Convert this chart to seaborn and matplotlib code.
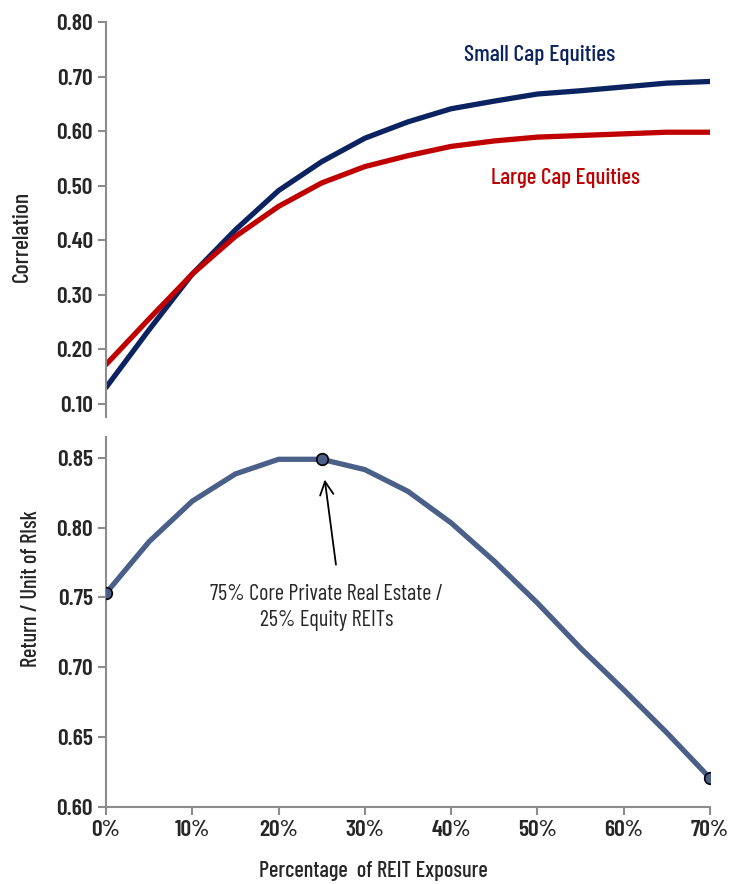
import matplotlib
matplotlib.use("Agg")
import matplotlib.pyplot as plt
import seaborn as sns
import pandas as pd

exposure = [0, 5, 10, 15, 20, 25, 30, 35, 40, 45, 50, 55, 60, 65, 70]
small_cap = [0.130, 0.236, 0.338, 0.419, 0.491, 0.544, 0.587, 0.617, 0.641, 0.655,
             0.668, 0.674, 0.681, 0.688, 0.691]
large_cap = [0.172, 0.256, 0.338, 0.407, 0.462, 0.505, 0.535, 0.555, 0.572, 0.582,
             0.589, 0.592, 0.595, 0.598, 0.598]
return_per_risk = [0.753, 0.790, 0.819, 0.8385, 0.849, 0.849, 0.8416, 0.826, 0.8034,
                   0.776, 0.746, 0.7137, 0.6838, 0.653, 0.6205]
marked = [0, 25, 70]

NAVY = "#0b2461"
RED = "#c00000"
STEEL = "#4a6089"
GRAY = "#8c8c8c"

sns.set_style("white")
plt.rcParams["font.family"] = ["Barlow Condensed", "DejaVu Sans"]

corr = pd.DataFrame({"x": exposure * 2,
                     "y": small_cap + large_cap,
                     "series": ["Small Cap Equities"] * len(exposure) + ["Large Cap Equities"] * len(exposure)})
ret = pd.DataFrame({"x": exposure, "y": return_per_risk})

fig = plt.figure(figsize=(7.3, 8.84), dpi=100)
ax1 = fig.add_axes([0.1452, 0.5283, 0.8274, 0.4468])
ax2 = fig.add_axes([0.1452, 0.0874, 0.8274, 0.4183])

sns.lineplot(data=corr, x="x", y="y", hue="series",
             palette={"Small Cap Equities": NAVY, "Large Cap Equities": RED},
             linewidth=3.8, legend=False, ax=ax1)
ax1.set_xlim(0, 70)
ax1.set_ylim(0.076, 0.80)
ax1.set_yticks([0.1, 0.2, 0.3, 0.4, 0.5, 0.6, 0.7, 0.8])
ax1.set_yticklabels([f"{v:.2f}" for v in ax1.get_yticks()])
ax1.set_xticks([])
ax1.set_xlabel("")
ax1.set_ylabel("Correlation", fontsize=17, fontweight=500)
for s in ["top", "right", "bottom"]:
    ax1.spines[s].set_visible(False)
ax1.text(50.3, 0.740, "Small Cap Equities", color=NAVY, fontsize=17,
         fontweight=500, ha="center", va="center")
ax1.text(53.2, 0.514, "Large Cap Equities", color=RED, fontsize=16.5,
         fontweight=500, ha="center", va="center")

sns.lineplot(data=ret, x="x", y="y", color=STEEL, linewidth=3.8, ax=ax2)
mk = ret[ret["x"].isin(marked)]
sns.scatterplot(data=mk, x="x", y="y", color=STEEL, edgecolor="black",
                linewidth=1.2, s=70, zorder=5, ax=ax2)
ax2.set_xlim(0, 70)
ax2.set_ylim(0.60, 0.865)
ax2.set_yticks([0.60, 0.65, 0.70, 0.75, 0.80, 0.85])
ax2.set_yticklabels([f"{v:.2f}" for v in ax2.get_yticks()])
ax2.set_xticks(range(0, 71, 10))
ax2.set_xticklabels([f"{v}%" for v in range(0, 71, 10)])
ax2.set_xlabel("Percentage  of REIT Exposure", fontsize=16, fontweight=500)
ax2.set_ylabel("Return / Unit of RIsk", fontsize=16, fontweight=500)
for s in ["top", "right"]:
    ax2.spines[s].set_visible(False)
ax2.text(25.6, 0.7595, "75% Core Private Real Estate /\n25% Equity REITs",
         ha="center", va="top", fontsize=16, linespacing=1.3)
ax2.annotate("", xy=(25.35, 0.8345), xytext=(26.65, 0.7735),
             arrowprops=dict(arrowstyle="->", color="black", lw=1.3,
                             mutation_scale=24, shrinkA=0, shrinkB=0))

for ax in (ax1, ax2):
    for s in ["left", "bottom"]:
        ax.spines[s].set_color(GRAY)
        ax.spines[s].set_linewidth(1.5)
    ax.tick_params(axis="both", which="both", length=6, width=1.5, color=GRAY,
                   direction="out", labelsize=17, left=True, bottom=True)
    for lab in ax.get_yticklabels() + ax.get_xticklabels():
        lab.set_fontweight(600)
ax1.tick_params(axis="x", bottom=False)
ax1.yaxis.set_label_coords(-0.122, 0.456)
ax2.yaxis.set_label_coords(-0.108, 0.59)
ax2.xaxis.set_label_coords(0.442, -0.148)

fig.savefig("out.png", dpi=100)
